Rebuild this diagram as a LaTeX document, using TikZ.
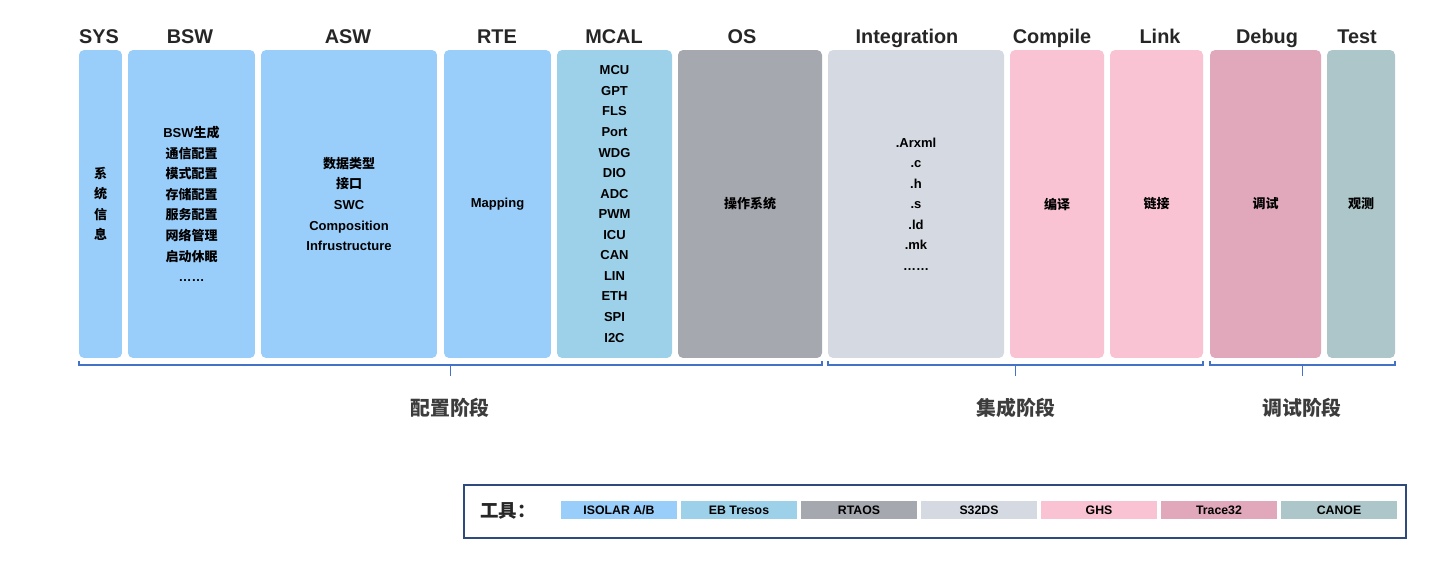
\documentclass[tikz,border=0pt]{standalone}
\usepackage{fontspec}
\setmainfont{Liberation Sans}
\newfontfamily\cjk{Noto Sans CJK SC}
\usepackage{xcolor}
\usetikzlibrary{math}
\definecolor{swblue}{RGB}{153,206,250}
\definecolor{mcalblue}{RGB}{157,209,234}
\definecolor{osgray}{RGB}{166,168,176}
\definecolor{intgray}{RGB}{213,217,225}
\definecolor{buildpink}{RGB}{250,195,211}
\definecolor{dbgpink}{RGB}{224,168,186}
\definecolor{testteal}{RGB}{173,198,201}
\definecolor{braceblue}{RGB}{68,114,196}
\definecolor{legendblue}{RGB}{47,74,124}
\definecolor{headgray}{RGB}{38,38,38}

\tikzset{
colbox/.style={rounded corners=0.1cm, minimum height=6.16cm, inner sep=0pt, align=center,
  font=\fontsize{7.4}{11.7}\selectfont\bfseries},
colhead/.style={font=\fontsize{11.3}{13}\selectfont\bfseries, text=headgray, anchor=base},
phase/.style={font=\fontsize{11.3}{13}\selectfont\bfseries\cjk, text=headgray!90},
phaseline/.style={draw=braceblue, line width=1pt},
toolbox/.style={minimum width=2.32cm, minimum height=0.36cm, inner sep=0pt,
  font=\fontsize{7}{8}\selectfont\bfseries},
}

\begin{document}
\begin{tikzpicture}[x=0.02cm, y=-0.02cm]
\tikzmath{
\colmid=204;
\headbase=43;
}
\useasboundingbox (0,0) rectangle (1442,561);

%columns
\node[colbox, fill=swblue, minimum width=0.86cm] (sys) at (100.5,\colmid)
  {{\cjk 系}\\{\cjk 统}\\{\cjk 信}\\{\cjk 息}};
\node[colbox, fill=swblue, minimum width=2.54cm] (bsw) at (191.5,\colmid)
  {BSW{\cjk 生成}\\{\cjk 通信配置}\\{\cjk 模式配置}\\{\cjk 存储配置}\\{\cjk 服务配置}\\{\cjk 网络管理}\\{\cjk 启动休眠}\\……};
\node[colbox, fill=swblue, minimum width=3.52cm] (asw) at (349,\colmid)
  {{\cjk 数据类型}\\{\cjk 接口}\\SWC\\Composition\\Infrustructure};
\node[colbox, fill=swblue, minimum width=2.14cm] (rte) at (497.5,\colmid) {Mapping};
\node[colbox, fill=mcalblue, minimum width=2.30cm] (mcal) at (614.5,\colmid)
  {MCU\\GPT\\FLS\\Port\\WDG\\DIO\\ADC\\PWM\\ICU\\CAN\\LIN\\ETH\\SPI\\I2C};
\node[colbox, fill=osgray, minimum width=2.88cm] (os) at (750,\colmid) {{\cjk 操作系统}};
\node[colbox, fill=intgray, minimum width=3.52cm] (integ) at (916,\colmid)
  {.Arxml\\.c\\.h\\.s\\.ld\\.mk\\……};
\node[colbox, fill=buildpink, minimum width=1.88cm] (comp) at (1057,\colmid) {{\cjk 编译}};
\node[colbox, fill=buildpink, minimum width=1.86cm] (link) at (1156.5,\colmid) {{\cjk 链接}};
\node[colbox, fill=dbgpink, minimum width=2.22cm] (dbg) at (1265.5,\colmid) {{\cjk 调试}};
\node[colbox, fill=testteal, minimum width=1.36cm] (test) at (1361,\colmid) {{\cjk 观测}};

%headers
\node[colhead] (hsys) at (99,\headbase) {SYS};
\node[colhead] (hbsw) at (190,\headbase) {BSW};
\node[colhead] (hasw) at (348,\headbase) {ASW};
\node[colhead] (hrte) at (497,\headbase) {RTE};
\node[colhead] (hmcal) at (614,\headbase) {MCAL};
\node[colhead] (hos) at (742,\headbase) {OS};
\node[colhead] (hinteg) at (907,\headbase) {Integration};
\node[colhead] (hcomp) at (1052,\headbase) {Compile};
\node[colhead] (hlink) at (1160,\headbase) {Link};
\node[colhead] (hdbg) at (1267,\headbase) {Debug};
\node[colhead] (htest) at (1357,\headbase) {Test};

%phases
\draw[phaseline] ([yshift=-0.06cm]sys.south west) |- ([yshift=-0.14cm]os.south east) -- ([yshift=-0.06cm]os.south east);
\draw[phaseline] (450.5,365) -- (450.5,376);
\draw[phaseline] ([yshift=-0.06cm]integ.south west) |- ([yshift=-0.14cm]link.south east) -- ([yshift=-0.06cm]link.south east);
\draw[phaseline] (1015.5,365) -- (1015.5,376);
\draw[phaseline] ([yshift=-0.06cm]dbg.south west) |- ([yshift=-0.14cm]test.south east) -- ([yshift=-0.06cm]test.south east);
\draw[phaseline] (1302.5,365) -- (1302.5,376);
\node[phase] (cfg) at (450,408) {配置阶段};
\node[phase] (intg) at (1016,408) {集成阶段};
\node[phase] (dbgp) at (1302,408) {调试阶段};

%tools
\node[draw=legendblue, line width=1pt, minimum width=18.84cm, minimum height=1.06cm] (legend) at (935,511.5) {};
\node[font=\fontsize{10.5}{12}\selectfont\bfseries\cjk, text=headgray] (tools) at (508,511) {工具：};
\node[toolbox, fill=swblue] (isolar) at (619,510) {ISOLAR A/B};
\node[toolbox, fill=mcalblue] (tresos) at (739,510) {EB Tresos};
\node[toolbox, fill=osgray] (rtaos) at (859,510) {RTAOS};
\node[toolbox, fill=intgray] (sds) at (979,510) {S32DS};
\node[toolbox, fill=buildpink] (ghs) at (1099,510) {GHS};
\node[toolbox, fill=dbgpink] (trace) at (1219,510) {Trace32};
\node[toolbox, fill=testteal] (canoe) at (1339,510) {CANOE};
\end{tikzpicture}
\end{document}
